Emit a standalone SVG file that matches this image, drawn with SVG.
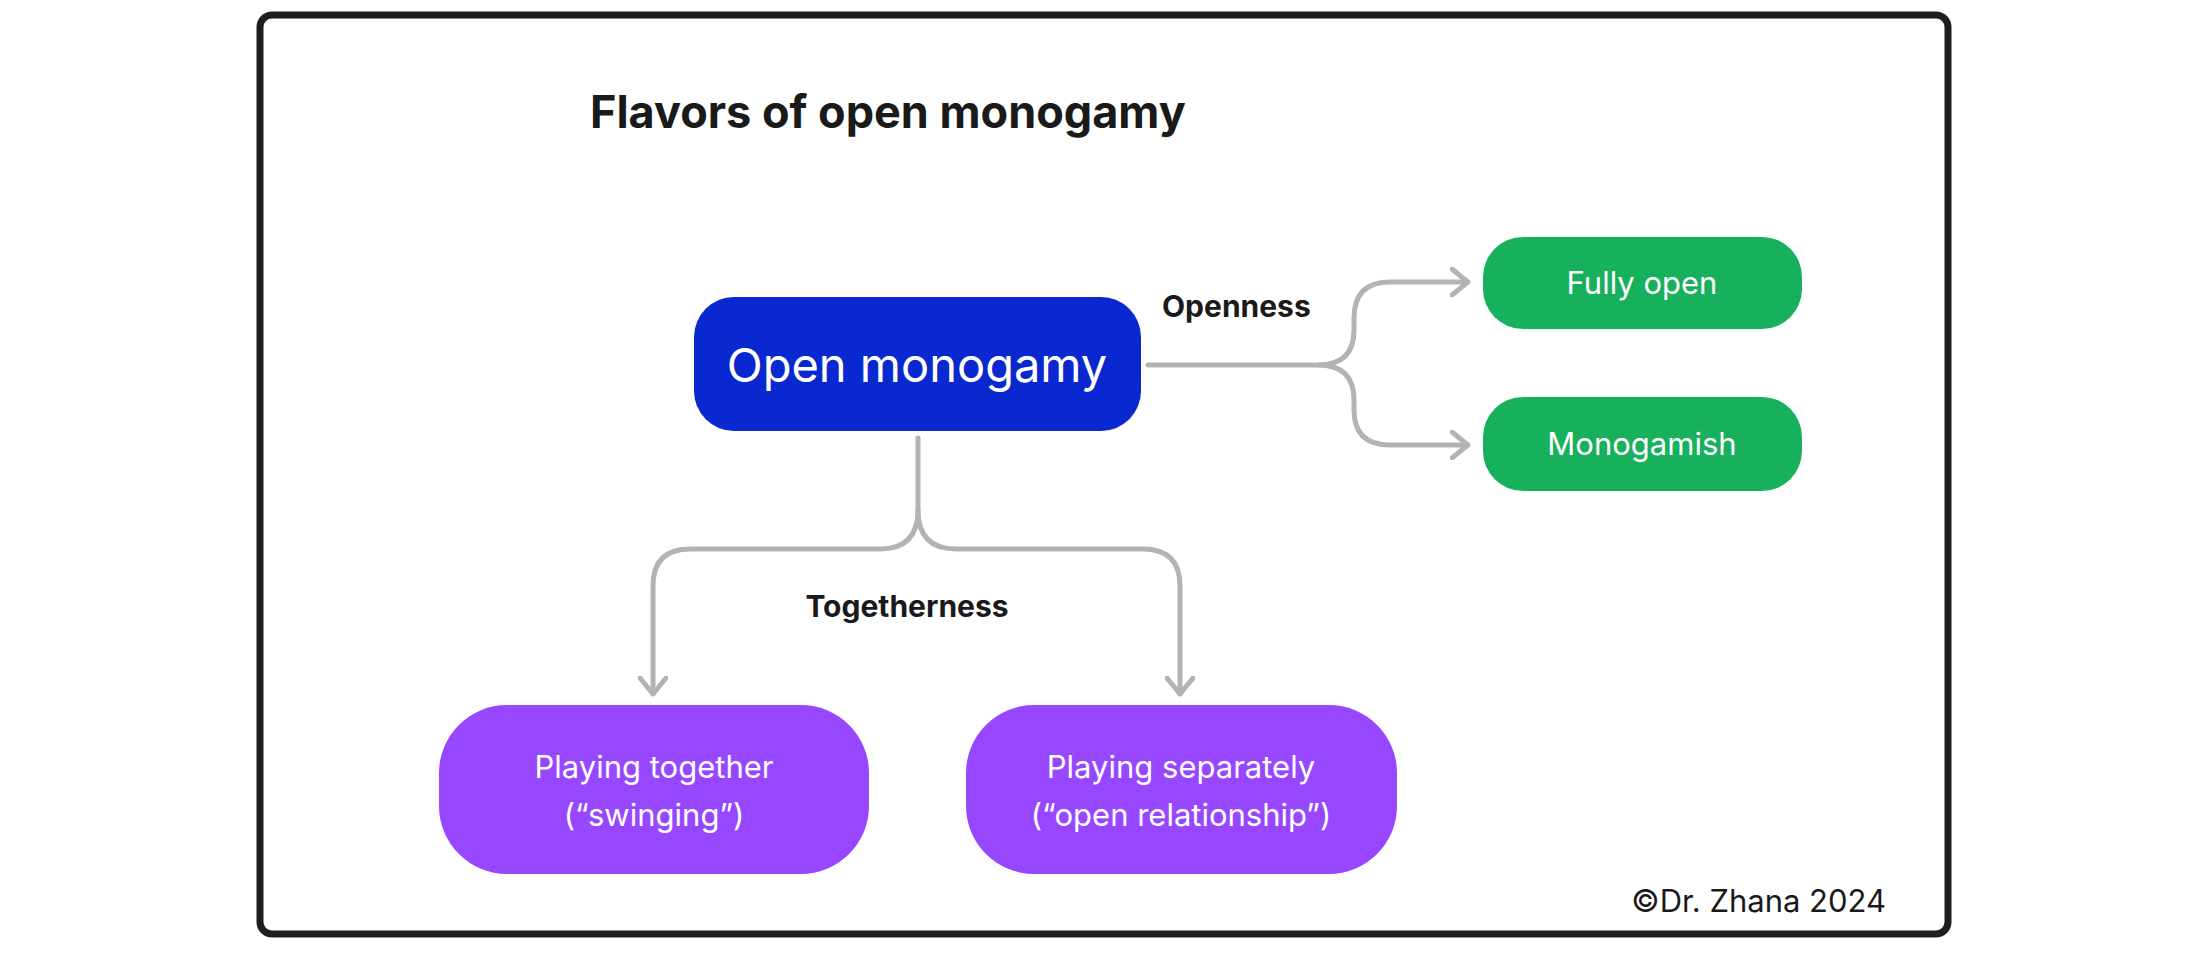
<svg xmlns="http://www.w3.org/2000/svg" width="2208" height="956" viewBox="0 0 2208 956">
<style>
text{font-family:Inter,"Liberation Sans",sans-serif}
.w{fill:#fff;font-size:30px;text-anchor:middle}
.lb{fill:#1a1a1a;font-size:30px;font-weight:700}
.c{fill:none;stroke:#b3b3b3;stroke-width:5;stroke-linecap:round;stroke-linejoin:round}
</style>
<defs><marker id="a" viewBox="0 0 20 30" refX="18" refY="15" markerWidth="20" markerHeight="30" markerUnits="userSpaceOnUse" orient="auto"><path d="M2 2 L18 15 L2 28" fill="none" stroke="#b3b3b3" stroke-width="5" stroke-linecap="round"/></marker></defs>
<rect width="2208" height="956" fill="#fff"/>
<rect x="260" y="15" width="1688" height="919" rx="12" fill="none" stroke="#1e1e1e" stroke-width="7"/>
<text x="590" y="128" font-size="45" font-weight="700" fill="#1a1a1a">Flavors of open monogamy</text>
<g id="connectors">
<path class="c" d="M1148 365 H1318 Q1354 365 1354 330 V318 Q1354 282 1390 282 H1468" marker-end="url(#a)"/>
<path class="c" d="M1318 365 Q1354 365 1354 400 V410 Q1354 445 1390 445 H1468" marker-end="url(#a)"/>
<path class="c" d="M918 438 V510 Q918 549 880 549 H690 Q653 549 653 586 V694" marker-end="url(#a)"/>
<path class="c" d="M918 510 Q918 549 956 549 H1143 Q1180 549 1180 586 V694" marker-end="url(#a)"/>
</g>
<text class="lb" x="1162" y="317">Openness</text>
<text class="lb" x="907" y="617" text-anchor="middle">Togetherness</text>
<g id="open"><rect x="694" y="297" width="447" height="134" rx="40" fill="#0a28d0"/><text class="w" x="917" y="382" style="font-size:47px">Open monogamy</text></g>
<g id="fully"><rect x="1483" y="237" width="319" height="92" rx="40" fill="#17b05c"/><text class="w" x="1642" y="294" style="font-size:31px">Fully open</text></g>
<g id="mono"><rect x="1483" y="397" width="319" height="94" rx="40" fill="#17b05c"/><text class="w" x="1642" y="455" style="font-size:31px">Monogamish</text></g>
<g id="together"><rect x="439" y="705" width="430" height="169" rx="68" fill="#9747ff"/><text class="w" x="654" y="778" style="font-size:31px">Playing together</text><text class="w" x="654" y="826" style="font-size:31px">(“swinging”)</text></g>
<g id="separately"><rect x="966" y="705" width="431" height="169" rx="68" fill="#9747ff"/><text class="w" x="1181" y="778" style="font-size:31px">Playing separately</text><text class="w" x="1181" y="826" style="font-size:31px">(“open relationship”)</text></g>
<text x="1886" y="912" font-size="31" fill="#1a1a1a" text-anchor="end">©Dr. Zhana 2024</text>
</svg>
